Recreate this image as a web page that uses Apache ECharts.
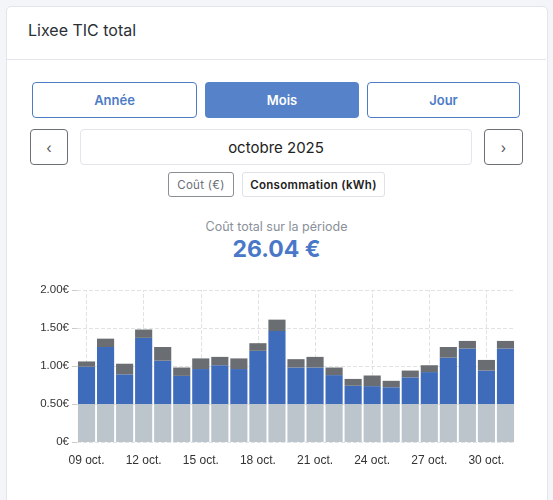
<!DOCTYPE html>
<html><head><meta charset="utf-8">
<script src="https://cdn.jsdelivr.net/npm/echarts@6/dist/echarts.min.js"></script>
<style>
body{margin:0;background:#f4f5f9;font-family:Inter,"Noto Sans",sans-serif;width:553px;height:500px;overflow:hidden;position:relative}
.card{position:absolute;left:6px;top:6px;width:540px;height:500px;background:#fff;border:1px solid #e2e5ec;border-radius:5px}
.abs{position:absolute;box-sizing:border-box;display:flex;align-items:center;justify-content:center}
</style></head><body>
<div class="card"></div>
<div class="abs" style="left:28px;top:20px;font-size:16px;color:#2b2f36">Lixee TIC total</div>
<div style="position:absolute;left:7px;top:59px;width:539px;height:1px;background:#e2e5ec"></div>
<div class="abs" style="left:32px;top:82px;width:165px;height:36px;border:1px solid #4d7cc7;border-radius:4px;color:#4d7cc7;font-weight:600;font-size:13px">Année</div>
<div class="abs" style="left:205px;top:82px;width:154px;height:36px;background:#5582c9;border-radius:4px;color:#fff;font-weight:600;font-size:13px">Mois</div>
<div class="abs" style="left:367px;top:82px;width:153px;height:36px;border:1px solid #4d7cc7;border-radius:4px;color:#4d7cc7;font-weight:600;font-size:13px">Jour</div>
<div class="abs" style="left:30px;top:129px;width:38px;height:36px;border:1px solid #6b6f76;border-radius:4px;color:#555;font-size:14px">‹</div>
<div class="abs" style="left:80px;top:129px;width:392px;height:36px;border:1px solid #e2e5ec;border-radius:4px;color:#222;font-size:15px">octobre 2025</div>
<div class="abs" style="left:484px;top:129px;width:39px;height:36px;border:1px solid #6b6f76;border-radius:4px;color:#555;font-size:14px">›</div>
<div class="abs" style="left:168px;top:172px;width:66px;height:25px;border:1px solid #8a8e95;border-radius:3px;color:#6a6e75;font-size:11.5px;letter-spacing:.3px">Coût (€)</div>
<div class="abs" style="left:242px;top:172px;width:143px;height:25px;border:1px solid #dfe2e8;border-radius:3px;color:#222;font-size:11.5px;font-weight:600;letter-spacing:.3px">Consommation (kWh)</div>
<div class="abs" style="left:0;top:217px;width:553px;height:18px;color:#8a9099;font-size:12.5px">Coût total sur la période</div>
<div class="abs" style="left:0;top:235px;width:553px;height:28px;color:#4a78c8;font-size:23px;font-weight:700">26.04 €</div>
<div id="c" style="position:absolute;left:0;top:270px;width:553px;height:220px"></div>
<script>
const categories=["09 oct.","10 oct.","11 oct.","12 oct.","13 oct.","14 oct.","15 oct.","16 oct.","17 oct.","18 oct.","19 oct.","20 oct.","21 oct.","22 oct.","23 oct.","24 oct.","25 oct.","26 oct.","27 oct.","28 oct.","29 oct.","30 oct.","31 oct."];
const baseCost=[0.5,0.5,0.5,0.5,0.5,0.5,0.5,0.5,0.5,0.5,0.5,0.5,0.5,0.5,0.5,0.5,0.5,0.5,0.5,0.5,0.5,0.5,0.5];
const blueCost=[0.49,0.75,0.39,0.87,0.57,0.37,0.46,0.51,0.46,0.70,0.96,0.48,0.48,0.38,0.24,0.235,0.22,0.35,0.42,0.61,0.73,0.44,0.73];
const greyCost=[0.07,0.11,0.14,0.11,0.18,0.11,0.14,0.11,0.14,0.10,0.15,0.11,0.14,0.10,0.09,0.14,0.085,0.09,0.09,0.14,0.10,0.14,0.10];
const yTicks=[0,0.5,1,1.5,2];
const gridCats=categories.filter((c,i)=>i%3===0);
const ch=echarts.init(document.getElementById('c'));
const mk=(d,c)=>({type:'bar',stack:'a',data:d,barCategoryGap:'10%',itemStyle:{color:c}});
const base=mk(baseCost,'#bcc4cc');
base.markLine={silent:true,symbol:'none',label:{show:false},lineStyle:{type:'dashed',color:'#e2e2e2',width:1},z:0,
 data:gridCats.map(c=>[{xAxis:c,yAxis:0},{xAxis:c,yAxis:2}])};
ch.setOption({animation:false,
grid:{left:77,right:38,top:20,bottom:48},
xAxis:{type:'category',data:categories,axisTick:{alignWithLabel:true,interval:2,lineStyle:{color:'#ccc'}},axisLine:{show:false},
 axisLabel:{interval:2,color:'#333',fontSize:12,margin:13},splitLine:{show:false}},
yAxis:{type:'value',min:yTicks[0],max:yTicks[yTicks.length-1],interval:0.5,
 axisLabel:{color:'#333',fontSize:11.5,formatter:v=>v===0?'0€':v.toFixed(2)+'€'},
 axisTick:{show:true,length:5,lineStyle:{color:'#ccc'}},splitLine:{lineStyle:{type:'dashed',color:'#e2e2e2'}}},
series:[base,mk(blueCost,'#3e6bba'),mk(greyCost,'#6a6e72')]});
</script></body></html>
